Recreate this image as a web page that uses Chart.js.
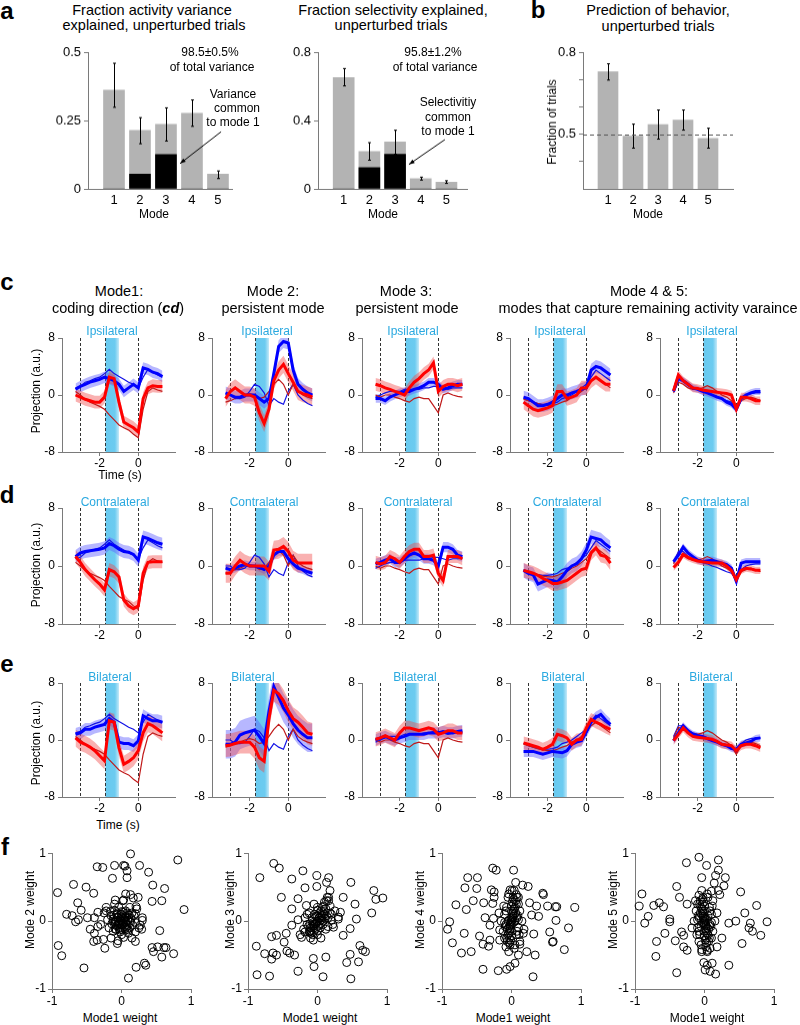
<!DOCTYPE html>
<html lang="en">
<head>
<meta charset="utf-8">
<title>Population modes</title>
<script src="https://cdn.jsdelivr.net/npm/chart.js@4.4.1/dist/chart.umd.min.js"></script>
<style>
body { margin: 0; background: #fff; font-family: Arial, "Liberation Sans", Helvetica, sans-serif; }
#page { position: relative; width: 800px; height: 1025px; overflow: hidden; }
#page canvas { position: absolute; }
.txt { position: absolute; white-space: nowrap; color: #000; font-size: 12px; line-height: 1; transform: translate(-50%, -50%); }
.title { font-size: 14.5px; }
.letter { font-size: 24px; font-weight: bold; }
.stim { color: #2aa9e0; }
.rot { transform: translate(-50%, -50%) rotate(-90deg); }
</style>
</head>
<body>
<div id="page"></div>
<script>
// ---------- data ----------
const modes = [1, 2, 3, 4, 5];

// a (left): fraction of activity variance explained
const actVar = [0.363, 0.215, 0.237, 0.278, 0.054];
const actVarShared = [0, 0.054, 0.126, 0, 0];
const actVarLo = [0.30, 0.166, 0.176, 0.23, 0.038];
const actVarHi = [0.462, 0.262, 0.298, 0.327, 0.066];

// a (right): fraction of selectivity explained
const selVar = [0.655, 0.22, 0.276, 0.06, 0.04];
const selVarShared = [0, 0.125, 0.204, 0, 0];
const selVarLo = [0.606, 0.169, 0.204, 0.052, 0.032];
const selVarHi = [0.708, 0.272, 0.345, 0.069, 0.048];

// b: prediction of behaviour
const predBehav = [0.731, 0.494, 0.536, 0.553, 0.486];
const predLo = [0.70, 0.45, 0.483, 0.516, 0.45];
const predHi = [0.76, 0.538, 0.59, 0.59, 0.523];

// c-e: projections over time (s)
const timeS = [-3.25, -3.0, -2.75, -2.5, -2.25, -2.0, -1.75, -1.5, -1.25, -1.0, -0.75, -0.5, -0.25, 0, 0.25, 0.5, 0.75, 1.0, 1.25];
const epochLines = [-3.0, -1.7, 0];
const stimWindow = [-1.7, -1.0];

// unperturbed (thin) traces, one per mode
const ctlBlue = [
  [1.0, 1.2, 1.8, 2.0, 2.3, 2.5, 3.0, 3.6, 3.0, 2.6, 2.2, 1.8, 1.5, 1.0, 2.5, 3.6, 3.2, 2.8, 2.5],
  [0.0, 0.0, -0.5, -0.5, -0.3, 0.5, 1.5, 1.2, 0.3, -1.5, -0.5, -1.0, -1.3, 0.5, 1.5, 0.0, -0.7, -1.2, -1.5],
  [-0.3, 0.0, 0.3, 0.5, 0.5, 0.5, 0.8, 0.8, 0.8, 0.8, 1.0, 1.0, 1.2, 1.2, 1.0, 0.8, 1.0, 1.0, 1.0],
  [-0.5, -0.8, -1.0, -1.2, -1.3, -1.3, -1.2, -1.0, -0.5, -0.3, 0.0, 0.5, 1.0, 1.5, 2.5, 3.5, 3.0, 2.5, 2.0],
  [0.5, 2.0, 2.0, 1.3, 1.0, 0.8, 0.5, 0.3, 0.0, -0.2, -0.5, -0.8, -1.0, -1.8, -0.5, 0.0, 0.2, 0.3, 0.3]
];
const ctlRed = [
  [0.5, 0.0, -0.6, -1.0, -1.3, -1.6, -2.0, -2.8, -3.5, -4.2, -4.6, -4.9, -5.5, -6.0, -2.0, 0.5, 1.0, 0.7, 0.5],
  [-1.0, -0.8, -0.5, -0.3, 0.0, 0.2, 0.0, -0.5, -0.3, 0.5, 1.5, 2.2, 1.5, 0.0, 1.5, 0.5, 0.0, -0.3, -0.5],
  [0.0, -0.3, 0.0, 0.0, -0.3, -0.5, -0.8, -1.0, -0.5, -0.3, -0.5, -0.5, -1.5, -2.5, 0.0, 0.3, 0.0, -0.2, -0.3],
  [-0.6, -0.8, -1.0, -1.2, -1.4, -1.5, -1.5, -1.3, -1.0, -0.8, -0.3, 0.0, 0.5, 1.0, 2.0, 2.5, 2.0, 1.5, 1.0],
  [0.3, 1.8, 1.5, 1.0, 0.8, 0.8, 1.0, 1.3, 1.0, 0.5, 0.0, -0.3, -0.8, -2.0, -0.8, -0.5, -0.3, -0.5, -0.8]
];

// photoinhibition trials (thick), per row
const ipsiBlue = [
  [0.8, 1.2, 1.5, 1.8, 2.0, 2.2, 2.5, 2.3, 2.0, 1.5, 0.5, 1.0, 1.5, 1.0, 3.8, 3.6, 3.2, 3.0, 2.6],
  [0.3, 0.0, -0.3, -0.3, 0.0, 0.0, 0.0, -0.5, -1.0, -0.5, 3.0, 6.8, 7.5, 7.3, 3.5, 1.5, 0.8, 0.3, 0.0],
  [-0.5, -0.5, -0.8, -0.3, 0.0, 0.3, 0.5, 0.5, 0.8, 1.0, 1.3, 1.8, 1.8, 1.5, 0.8, 1.0, 1.3, 1.5, 1.5],
  [-0.3, -0.5, -1.0, -1.5, -1.5, -1.3, -1.0, -0.5, 0.0, 0.0, 0.3, 0.5, 0.8, 1.0, 3.5, 4.0, 3.8, 3.3, 2.8],
  [0.5, 2.5, 2.0, 1.5, 1.0, 0.8, 0.5, 0.3, 0.0, -0.3, -0.5, -1.0, -1.3, -2.0, -0.5, 0.0, 0.3, 0.5, 0.5]
];
const ipsiRed = [
  [0.0, -0.3, -0.6, -0.8, -1.0, -1.0, -0.3, 2.5, 2.3, -1.0, -3.8, -4.2, -4.6, -5.2, -0.5, 1.0, 1.3, 1.2, 1.2],
  [-0.5, 0.5, 1.0, 0.5, 0.0, 0.0, -0.3, -2.5, -4.0, -2.0, 2.0, 3.5, 4.3, 3.0, 1.8, 0.5, 0.2, 0.0, -0.3],
  [1.5, 1.3, 1.0, 0.8, 0.5, 0.3, 0.0, 1.0, 1.8, 2.3, 3.0, 3.5, 4.5, 0.5, 1.2, 1.5, 1.5, 1.3, 1.5],
  [-1.0, -1.5, -2.0, -2.2, -2.0, -1.8, -1.5, 0.5, 0.5, -0.5, -0.3, 0.0, 1.0, 1.0, 2.0, 2.5, 2.0, 1.5, 1.5],
  [0.6, 2.8, 2.0, 1.5, 1.0, 0.9, 0.7, 0.6, 0.5, 0.4, 0.3, 0.2, 0.0, -2.0, -0.3, -0.3, -0.5, -0.8, -0.8]
];
const contraBlue = [
  [1.3, 1.8, 2.0, 2.1, 2.2, 2.3, 2.5, 3.1, 2.8, 2.3, 2.0, 1.9, 1.6, 0.8, 4.0, 3.8, 3.5, 3.2, 3.0],
  [-0.3, -0.5, -0.3, 0.0, 0.2, 0.0, 0.0, -0.2, -0.5, 0.0, 1.5, 2.0, 2.0, 1.0, 0.3, -0.3, -0.5, -0.8, -1.0],
  [0.3, 0.5, 0.8, 1.0, 0.5, 0.5, 1.0, 1.5, 1.8, 1.5, 1.0, 1.0, 0.8, 0.0, 2.6, 2.6, 2.3, 1.5, 1.3],
  [-0.6, -1.0, -1.2, -2.5, -2.2, -1.9, -2.0, -2.2, -1.5, -0.6, 0.0, 0.3, 1.0, 2.2, 4.0, 3.8, 3.6, 3.0, 2.5],
  [0.6, 1.5, 2.6, 1.8, 1.3, 0.8, 0.6, 0.7, 0.8, 0.6, 0.4, 0.2, -0.3, -2.1, 0.4, 0.6, 0.6, 0.6, 0.6]
];
const contraRed = [
  [1.3, 0.5, -0.5, -1.2, -1.9, -2.5, -3.3, -0.5, -0.8, -1.5, -4.7, -5.5, -5.9, -5.5, -1.0, 0.5, 0.6, 0.6, 0.6],
  [-1.0, -1.0, 0.0, 0.8, 0.3, 0.0, 0.0, 0.0, 0.0, -0.7, 2.2, 2.3, 2.7, 2.0, 0.8, 0.4, 0.4, 0.4, 0.4],
  [0.5, 0.3, 0.5, 1.3, 1.0, 0.5, 1.3, 2.0, 2.3, 2.3, 1.3, 1.3, 1.5, -1.0, -2.0, 1.3, 1.3, 1.3, 1.0],
  [-0.6, -0.8, -1.0, -1.3, -1.7, -2.0, -2.4, -2.4, -2.2, -2.0, -1.5, -1.0, -0.5, -0.3, 1.8, 2.5, 1.5, 1.3, 0.4],
  [-0.2, 0.5, 1.6, 1.2, 0.9, 0.7, 0.6, 0.5, 0.4, 0.4, 0.4, 0.0, -0.6, -1.9, -0.6, -0.3, -0.4, -0.6, -0.6]
];
const bilatBlue = [
  [0.8, 1.0, 1.5, 1.5, 1.8, 2.0, 2.2, 3.0, 2.5, -0.3, -0.5, -0.5, -0.8, -0.1, 3.4, 3.0, 2.7, 2.7, 2.5],
  [-0.6, -0.6, -0.3, 0.7, 1.0, 1.2, 1.4, 0.5, -0.5, 4.0, 7.5, 6.0, 4.5, 3.5, 2.3, 1.4, 0.8, 0.3, 0.3],
  [0.0, 0.3, 0.5, 0.2, 0.0, 0.3, 0.5, 0.8, 0.8, 0.8, 0.8, 1.0, 1.0, 1.0, 1.2, 1.0, 1.0, 1.2, 1.3],
  [-1.6, -1.6, -1.6, -1.8, -2.0, -1.8, -1.6, -1.7, -1.8, -1.5, -0.6, -0.3, -0.1, 1.1, 2.5, 3.2, 3.6, 2.8, 2.2],
  [-0.1, 1.0, 2.0, 1.3, 0.8, 0.6, 0.5, 0.2, -0.1, -0.3, -0.6, -0.8, -1.2, -1.3, -0.6, -0.4, -0.2, 0.2, 0.3]
];
const bilatRed = [
  [0.3, -0.3, -0.6, -1.0, -1.5, -2.2, -2.9, 2.7, 2.5, -1.1, -3.4, -3.0, -2.5, -1.5, 1.0, 2.3, 2.0, 1.5, 1.0],
  [-0.8, -0.7, -0.5, -0.3, -0.3, -0.3, -1.0, -2.5, -3.0, 3.0, 7.0, 6.5, 5.5, 4.1, 3.0, 2.5, 1.8, 1.0, 0.8],
  [0.1, 0.3, 0.6, 0.3, 0.0, 1.0, 1.7, 1.7, 1.5, 1.3, 1.5, 1.7, 1.5, 0.8, 1.0, 1.3, 1.3, 1.0, 1.0],
  [-0.4, -0.6, -0.8, -1.0, -1.3, -1.0, -0.6, 0.8, 0.6, 0.3, -0.6, 0.0, 0.1, 1.7, 2.9, 2.5, 2.2, 1.8, 1.5],
  [-0.1, 0.8, 1.7, 1.0, 0.5, 0.4, 0.3, 0.2, 0.1, -0.2, -0.6, -0.7, -0.8, -1.5, -0.8, -0.6, -0.6, -0.8, -1.1]
];
// s.e.m. half-widths, per mode
const ipsiSemBlue = [0.8, 0.9, 0.6, 0.9, 0.5];
const ipsiSemRed = [0.9, 1.2, 0.9, 1.0, 0.6];
const contraSemBlue = [0.9, 0.6, 0.7, 1.0, 0.5];
const contraSemRed = [0.9, 1.3, 0.9, 1.0, 0.5];
const bilatSemBlue = [0.9, 2.0, 0.8, 0.8, 0.5];
const bilatSemRed = [1.2, 1.6, 1.0, 0.9, 0.6];

// f: mode weights vs mode 1 weight, [x, y]
const w2 = [[0.13,0.99],[0.81,0.90],[-0.35,0.80],[-0.27,0.79],[-0.10,0.82],[0.03,0.82],[0.05,0.81],[0.26,0.82],[0.39,0.72],[0.08,0.74],[0.08,0.64],[-0.13,0.63],[0.45,0.53],[-0.69,0.54],[-0.51,0.50],[-0.40,0.41],[-0.92,0.42],[0.62,0.48],[0.06,0.40],[0.13,0.39],[-0.09,0.31],[0.03,0.31],[0.17,0.34],[0.24,0.35],[0.44,0.29],[0.58,0.30],[0.90,0.17],[-0.63,0.27],[-0.58,0.16],[-0.79,0.10],[-0.71,0.08],[-0.62,0.02],[-0.49,0.05],[-0.66,-0.01],[-0.39,0.05],[-0.34,0.13],[-0.22,0.15],[0.21,0.21],[0.20,0.11],[0.30,0.01],[0.27,-0.06],[0.29,-0.12],[0.08,-0.12],[-0.09,-0.12],[-0.45,-0.12],[-0.39,-0.18],[-0.34,-0.08],[-0.40,-0.30],[-0.35,-0.28],[-0.26,-0.27],[-0.24,-0.40],[-0.06,-0.33],[-0.05,-0.29],[0.03,-0.24],[0.20,-0.30],[0.20,-0.16],[0.55,-0.14],[0.44,-0.39],[0.46,-0.45],[0.52,-0.38],[0.61,-0.39],[0.64,-0.39],[0.58,-0.53],[0.75,-0.48],[-0.91,-0.36],[-0.86,-0.51],[-0.54,-0.69],[0.21,-0.68],[0.33,-0.62],[0.35,-0.65],[0.10,-0.84],
  [-0.05,0.05],[0,0],[0.02,-0.03],[-0.03,-0.02],[0.05,0.02],[-0.08,0],[0.08,-0.05],[0,0.1],[-0.02,-0.1],[0.1,0.05],[-0.1,-0.05],[0.04,-0.08],[-0.06,0.12],[0.12,-0.1],[-0.15,0.08],[0.15,0.12],[-0.12,-0.15],[0.06,0.15],[-0.2,0.02],[0.2,-0.02],[0,-0.2],[-0.04,0.2],[0.1,-0.18],[-0.18,-0.1],[0.18,0.08],[-0.25,0.12],[0.25,-0.1],[-0.1,0.25],[0.12,0.2],[-0.3,-0.05],[0.3,0.05],[0.02,0.3],[-0.15,-0.25],[0.15,-0.25],[-0.22,0.2],[0.22,0.18],[0.07,0.07],[-0.07,-0.07],[0.03,0.04],[-0.01,0.02],[0.01,-0.06],[-0.04,-0.04],[0.06,-0.01],[-0.12,0.03],[0.13,-0.02],
  [0.02,0.08],[-0.06,0.06],[0.09,0.01],[-0.09,-0.02],[0.05,-0.11],[-0.03,-0.13],[0.11,0.09],[-0.11,0.09],[0.0,0.05],[0.0,-0.05],[0.04,0.0],[-0.04,0.0],[0.07,-0.09],[-0.07,0.1],[0.14,0.04],[-0.14,-0.04],[0.02,0.13],[-0.02,-0.16],[0.1,-0.13],[-0.1,0.16],[0.16,-0.06],[-0.16,0.14],[0.05,0.06],[-0.05,-0.06],[0.08,0.12],[-0.08,-0.12],[0.12,0.0],[-0.12,0.0],[0.0,0.14],[0.0,-0.12]];
const w3 = [[-0.63,0.85],[-0.55,0.78],[-0.83,0.64],[-0.21,0.74],[-0.37,0.62],[-0.01,0.67],[0.16,0.64],[0.13,0.57],[-0.01,0.51],[0.48,0.57],[-0.18,0.49],[0.18,0.45],[0.16,0.35],[0.13,0.30],[0.37,0.35],[0.81,0.45],[0.84,0.32],[0.94,0.34],[0.78,0.12],[0.54,0.25],[-0.52,0.35],[-0.37,0.18],[-0.28,0.33],[-0.16,0.23],[0.56,0.03],[0.20,0.01],[0.23,-0.09],[-0.37,-0.06],[-0.45,-0.18],[-0.59,-0.21],[-0.48,-0.31],[-0.44,-0.44],[-0.40,-0.47],[-0.33,-0.50],[-0.88,-0.37],[-0.76,-0.48],[-0.66,-0.56],[-0.59,-0.50],[-0.64,-0.47],[-0.66,-0.23],[-0.87,-0.79],[-0.69,-0.81],[-0.28,-0.74],[-0.06,-0.55],[-0.05,-0.67],[0.12,-0.53],[0.08,-0.82],[0.37,-0.21],[0.47,-0.11],[0.47,-0.49],[0.42,-0.61],[0.48,-0.85],[0.59,-0.60],[0.61,-0.36],[0.65,-0.43],[0.69,-0.45],[-0.11,-0.16],[-0.23,-0.24],[-0.06,-0.28],[0.33,0.13],[0.30,0.06],
  [0,0],[0.03,0.05],[-0.03,-0.04],[0.06,0.02],[-0.06,-0.02],[0.02,-0.06],[-0.02,0.07],[0.1,0.1],[-0.1,-0.1],[0.08,-0.05],[-0.08,0.05],[0.12,0.18],[-0.12,-0.16],[0.15,0.05],[-0.15,-0.05],[0.05,0.15],[-0.05,-0.15],[0.18,0.22],[-0.2,-0.12],[0.2,0.1],[-0.18,0.05],[0.22,-0.05],[0,0.2],[0,-0.2],[0.1,0.28],[-0.1,-0.25],[0.25,0.15],[-0.25,-0.2],[0.14,0.35],[-0.28,0.02],[0.3,0.03],[0.05,-0.25],[-0.05,0.25],[0.12,-0.12],[-0.12,0.12],[0.04,0.01],[-0.01,-0.01],[0.07,0.08],[-0.07,-0.08],[0.16,0.3],
  [0.02,0.04],[-0.02,-0.03],[0.05,0.08],[-0.05,-0.07],[0.08,0.0],[-0.08,0.0],[0.0,0.08],[0.0,-0.08],[0.1,0.14],[-0.1,-0.14],[0.04,-0.1],[-0.04,0.1],[0.13,0.08],[-0.13,-0.08],[0.07,0.2],[-0.07,-0.2],[0.15,-0.08],[-0.15,0.1],[0.03,0.12],[-0.03,-0.12],[0.11,0.04],[-0.11,-0.04],[0.06,0.05],[-0.06,-0.05],[0.09,0.22],[-0.09,-0.18],[0.18,0.12],[-0.18,-0.16],[0.0,0.16],[0.0,-0.14]];
const w4 = [[-0.27,0.78],[-0.22,0.75],[0.03,0.75],[-0.63,0.64],[-0.49,0.64],[0.06,0.57],[0.16,0.53],[0.24,0.51],[-0.67,0.49],[-0.50,0.48],[-0.29,0.46],[-0.25,0.43],[-0.02,0.46],[0.01,0.45],[0.07,0.39],[0.10,0.35],[0.45,0.41],[0.46,0.39],[-0.80,0.24],[-0.55,0.30],[-0.65,0.17],[-0.40,0.27],[-0.25,0.35],[-0.27,0.26],[0.26,0.27],[0.36,0.22],[0.52,0.22],[0.63,0.21],[0.65,0.21],[0.91,0.20],[-0.89,-0.01],[-0.92,-0.12],[-0.85,-0.32],[-0.72,-0.47],[-0.58,-0.45],[-0.68,-0.18],[-0.46,-0.22],[-0.41,-0.34],[-0.33,-0.37],[-0.31,-0.28],[-0.38,0.05],[-0.26,0.04],[-0.31,-0.06],[-0.17,-0.13],[-0.17,-0.28],[-0.41,-0.71],[-0.19,-0.73],[-0.07,-0.71],[-0.02,-0.67],[0.05,-0.62],[0.31,-0.82],[0.10,-0.50],[0.22,-0.45],[0.34,-0.50],[0.32,-0.19],[0.29,0.09],[0.39,0.07],[0.55,-0.16],[0.59,-0.31],[0.60,-0.30],[0.64,0.01],[0.82,-0.10],[0.76,-0.42],[0.17,-0.18],[0.12,-0.34],
  [0,0],[0.02,0.05],[-0.02,-0.05],[0.04,0.1],[-0.04,-0.1],[0,0.15],[0,-0.15],[0.05,0.2],[-0.05,-0.2],[0.03,0.25],[-0.03,-0.25],[0.08,0.05],[-0.08,-0.05],[0.1,-0.1],[-0.1,0.1],[0.06,0.3],[-0.06,-0.3],[0.02,0.35],[-0.02,-0.35],[0.12,0.15],[-0.12,-0.15],[0.15,0],[-0.15,0],[0.07,-0.2],[-0.07,0.2],[0.1,0.25],[-0.1,-0.25],[0.04,-0.4],[-0.04,0.4],[0.18,-0.12],[-0.18,0.12],[0.01,0.02],[-0.01,-0.02],[0.03,-0.02],[-0.03,0.02],[0.05,0.0],[-0.05,0.0],[0.08,0.35],[-0.08,-0.38],[0.12,-0.3],
  [0.02,0.07],[-0.02,-0.07],[0.0,0.05],[0.0,-0.05],[0.04,0.18],[-0.04,-0.18],[0.06,0.12],[-0.06,-0.12],[0.01,0.28],[-0.01,-0.28],[0.08,-0.15],[-0.08,0.15],[0.03,0.32],[-0.03,-0.32],[0.1,0.02],[-0.1,-0.02],[0.05,-0.35],[-0.05,0.35],[0.07,0.25],[-0.07,-0.25],[0.02,0.12],[-0.02,-0.12],[0.09,0.08],[-0.09,-0.08],[0.04,0.45],[-0.04,-0.45],[0.11,-0.2],[-0.11,0.22],[0.0,0.22],[0.0,-0.22]];
const w5 = [[-0.08,0.94],[0.03,0.82],[0.20,0.90],[-0.26,0.86],[0.20,0.75],[0.16,0.67],[0.30,0.64],[-0.04,0.64],[0.14,0.56],[0.28,0.52],[-0.40,0.51],[0.20,0.45],[0.22,0.39],[0.10,0.44],[-0.90,0.40],[0.52,0.43],[-0.36,0.35],[-0.94,0.22],[-0.73,0.23],[-0.65,0.27],[-0.59,0.21],[-0.81,0.07],[-0.86,-0.03],[-0.13,0.30],[-0.25,0.25],[0.58,0.12],[0.75,0.23],[-0.50,0.03],[-0.50,-0.01],[0.90,-0.01],[0.66,-0.03],[0.64,-0.10],[0.69,-0.15],[0.81,-0.21],[-0.57,-0.18],[0.54,-0.33],[0.35,-0.03],[0.45,0.00],[-0.69,-0.30],[-0.70,-0.52],[-0.42,-0.29],[-0.30,-0.38],[-0.25,-0.43],[-0.30,-0.21],[-0.33,-0.16],[-0.40,-0.76],[0.35,-0.65],[-0.01,-0.61],[0.04,-0.65],[0.11,-0.62],[0.01,-0.72],[0.08,-0.74],[0.16,-0.78],[0.25,-0.25],[0.18,-0.38],[-0.08,-0.30],[-0.04,-0.45],[0.04,-0.43],
  [0,0],[-0.02,0.05],[0.02,-0.05],[-0.04,0.1],[0.04,-0.1],[0,0.15],[0,-0.15],[-0.05,0.2],[0.05,-0.2],[-0.03,0.25],[0.03,-0.25],[-0.08,0.05],[0.08,-0.05],[-0.1,-0.1],[0.1,0.1],[-0.06,0.3],[0.06,-0.3],[-0.02,0.35],[0.02,-0.38],[-0.12,0.15],[0.12,-0.15],[-0.15,0],[0.15,0],[-0.07,-0.2],[0.07,0.2],[-0.1,0.25],[0.1,-0.25],[-0.04,-0.42],[0.04,0.4],[-0.18,-0.1],[0.18,0.12],[0.01,0.02],[-0.01,-0.02],[0.03,0.03],[-0.03,-0.03],[0.05,0.08],[-0.05,-0.08],[-0.08,0.38],[0.08,-0.4],[0.12,0.3],
  [-0.02,0.07],[0.02,-0.07],[0.0,0.05],[0.0,-0.05],[-0.04,0.18],[0.04,-0.18],[-0.06,0.12],[0.06,-0.12],[-0.01,0.28],[0.01,-0.28],[-0.08,-0.15],[0.08,0.15],[-0.03,0.32],[0.03,-0.32],[-0.1,0.02],[0.1,-0.02],[-0.05,-0.35],[0.05,0.35],[-0.07,0.25],[0.07,-0.25],[-0.02,0.12],[0.02,-0.12],[-0.09,0.08],[0.09,-0.08],[-0.04,0.45],[0.04,-0.45],[-0.11,-0.2],[0.11,0.22],[0.0,0.22],[0.0,-0.22]];

// ---------- helpers ----------
Chart.defaults.font.family = 'Arial, "Liberation Sans", Helvetica, sans-serif';
Chart.defaults.color = '#000';
Chart.defaults.animation = false;

const AXIS_GREY = '#7a7a7a';
const BAR_GREY = '#b3b3b3';
const page = document.getElementById('page');

// area = [x0, y0, x1, y1] of the plot area on the page, pad = [left, top, right, bottom]
function makeCanvas(area, pad) {
  const c = document.createElement('canvas');
  const w = area[2] - area[0] + pad[0] + pad[2];
  const h = area[3] - area[1] + pad[1] + pad[3];
  c.width = w; c.height = h;
  c.style.left = (area[0] - pad[0]) + 'px';
  c.style.top = (area[1] - pad[1]) + 'px';
  c.style.width = w + 'px';
  c.style.height = h + 'px';
  page.appendChild(c);
  return c;
}

function txt(s, x, y, cls) {
  const d = document.createElement('div');
  d.className = 'txt' + (cls ? ' ' + cls : '');
  d.innerHTML = s;
  d.style.left = x + 'px';
  d.style.top = y + 'px';
  page.appendChild(d);
}

function axis(pos, min, max, ticks, size, o = {}) {
  return {
    type: 'linear', position: pos, min: min, max: max, offset: false,
    afterBuildTicks: s => { s.ticks = ticks.map(v => ({ value: v })); },
    afterFit: s => { if (pos === 'left') s.width = size; else s.height = size; },
    grid: { drawOnChartArea: false, offset: false, drawTicks: !o.noTicks, tickLength: 4, color: AXIS_GREY },
    border: { color: AXIS_GREY },
    ticks: { font: { size: o.fontSize || 12 }, padding: o.pad ?? 2, maxRotation: 0, autoSkip: false,
             callback: o.fmt || (v => String(v)) }
  };
}

function options(pad, xAxis, yAxis) {
  return {
    responsive: false, animation: false, devicePixelRatio: 1,
    layout: { padding: { left: 0, top: pad[1], right: pad[2], bottom: 0 } },
    scales: { x: xAxis, y: yAxis },
    plugins: { legend: { display: false }, tooltip: { enabled: false } }
  };
}

function errorBars(lo, hi) {
  return {
    id: 'errorBars',
    afterDatasetsDraw(chart) {
      const { ctx, scales: { x, y } } = chart;
      ctx.save();
      ctx.strokeStyle = '#000'; ctx.lineWidth = 1;
      modes.forEach((m, i) => {
        const px = Math.round(x.getPixelForValue(m)) + 0.5;
        const yl = y.getPixelForValue(lo[i]), yh = y.getPixelForValue(hi[i]);
        ctx.beginPath();
        ctx.moveTo(px, yl); ctx.lineTo(px, yh);
        ctx.moveTo(px - 1.5, yl); ctx.lineTo(px + 1.5, yl);
        ctx.moveTo(px - 1.5, yh); ctx.lineTo(px + 1.5, yh);
        ctx.stroke();
      });
      ctx.restore();
    }
  };
}

// annotation arrow, given in data units
function arrow(from, to) {
  return {
    id: 'arrow',
    afterDatasetsDraw(chart) {
      const { ctx, scales: { x, y } } = chart;
      const x0 = x.getPixelForValue(from[0]), y0 = y.getPixelForValue(from[1]);
      const x1 = x.getPixelForValue(to[0]), y1 = y.getPixelForValue(to[1]);
      const a = Math.atan2(y1 - y0, x1 - x0);
      ctx.save();
      ctx.strokeStyle = '#000'; ctx.fillStyle = '#000'; ctx.lineWidth = 1;
      ctx.beginPath(); ctx.moveTo(x0, y0); ctx.lineTo(x1, y1); ctx.stroke();
      ctx.beginPath();
      ctx.moveTo(x1, y1);
      ctx.lineTo(x1 - 6 * Math.cos(a - 0.35), y1 - 6 * Math.sin(a - 0.35));
      ctx.lineTo(x1 - 6 * Math.cos(a + 0.35), y1 - 6 * Math.sin(a + 0.35));
      ctx.closePath(); ctx.fill();
      ctx.restore();
    }
  };
}

function chanceLine(level) {
  return {
    id: 'chance',
    afterDatasetsDraw(chart) {
      const { ctx, chartArea: a, scales: { y } } = chart;
      const py = Math.round(y.getPixelForValue(level)) + 0.5;
      ctx.save();
      ctx.strokeStyle = '#555'; ctx.lineWidth = 1; ctx.setLineDash([4, 3]);
      ctx.beginPath(); ctx.moveTo(a.left, py); ctx.lineTo(a.right, py); ctx.stroke();
      ctx.restore();
    }
  };
}

function barPanel(area, vals, shared, lo, hi, yMin, yMax, yTicks, yFmt, xMax, width, extra) {
  const pad = [40, 10, 10, 20];
  const datasets = [];
  if (shared) {
    datasets.push({ data: modes.map((m, i) => ({ x: m, y: [0, shared[i]] })), backgroundColor: '#000',
                    barThickness: width, grouped: false, order: 1 });
  }
  datasets.push({ data: modes.map((m, i) => ({ x: m, y: [yMin, vals[i]] })), backgroundColor: BAR_GREY,
                  barThickness: width, grouped: false, order: 2 });
  new Chart(makeCanvas(area, pad), {
    type: 'bar',
    data: { datasets },
    options: options(pad,
      axis('bottom', 0, xMax, modes, pad[3], { noTicks: true, fontSize: 13, pad: 4 }),
      axis('left', yMin, yMax, yTicks, pad[0], { fontSize: 13, pad: 3, fmt: yFmt })),
    plugins: [errorBars(lo, hi)].concat(extra)
  });
}

// ---------- panel a / b ----------
barPanel([88, 52, 232, 188.5], actVar, actVarShared, actVarLo, actVarHi, 0, 0.5, [0, 0.25, 0.5], null, 5.54, 21,
         [arrow([5.12, 0.21], [3.54, 0.093])]);
barPanel([318, 52, 467, 188.5], selVar, selVarShared, selVarLo, selVarHi, 0, 0.8, [0, 0.4, 0.8], null, 5.8, 21,
         [arrow([4.94, 0.29], [3.54, 0.144])]);
barPanel([583, 52, 733, 188.5], predBehav, null, predLo, predHi, 0.3, 0.8, [0.4, 0.5, 0.6, 0.7, 0.8],
         v => (v === 0.8 || v === 0.5) ? v.toFixed(1) : '', 6, 20, [chanceLine(0.5)]);

// ---------- panels c-e ----------
const traceAxisX = [62, 212, 362, 510, 660];
const traceRows = [
  { blue: ipsiBlue, red: ipsiRed, semB: ipsiSemBlue, semR: ipsiSemRed, top: 338, bottom: 452 },
  { blue: contraBlue, red: contraRed, semB: contraSemBlue, semR: contraSemRed, top: 508, bottom: 624 },
  { blue: bilatBlue, red: bilatRed, semB: bilatSemBlue, semR: bilatSemRed, top: 683, bottom: 797 }
];

const epochPlugin = {
  id: 'epochs',
  beforeDatasetsDraw(chart) {
    const { ctx, chartArea: a, scales: { x } } = chart;
    const s0 = x.getPixelForValue(stimWindow[0]), s1 = x.getPixelForValue(stimWindow[1]);
    const g = ctx.createLinearGradient(s0, 0, s1, 0);
    g.addColorStop(0, '#68c9ef'); g.addColorStop(0.7, '#6ccbf0'); g.addColorStop(1, '#c4e9f8');
    ctx.save();
    ctx.fillStyle = g;
    ctx.fillRect(s0, a.top, s1 - s0, a.bottom - a.top);
    ctx.strokeStyle = '#333'; ctx.lineWidth = 1; ctx.setLineDash([3, 2]);
    epochLines.forEach(t => {
      const px = Math.round(x.getPixelForValue(t)) + 0.5;
      ctx.beginPath(); ctx.moveTo(px, a.top); ctx.lineTo(px, a.bottom); ctx.stroke();
    });
    ctx.restore();
  }
};

const pts = vals => timeS.map((t, i) => ({ x: t, y: vals[i] }));
function line(vals, color, width, order) {
  return { data: pts(vals), borderColor: color, borderWidth: width, pointRadius: 0, fill: false,
           tension: 0, order: order, clip: false };
}
function band(vals, sem, color, order) {
  return [
    { data: pts(vals.map(v => v + sem)), borderWidth: 0, borderColor: 'rgba(0,0,0,0)', pointRadius: 0,
      backgroundColor: color, fill: '+1', order: order },
    { data: pts(vals.map(v => v - sem)), borderWidth: 0, borderColor: 'rgba(0,0,0,0)', pointRadius: 0,
      fill: false, order: order }
  ];
}

traceRows.forEach(row => {
  modes.forEach((mode, m) => {
    const area = [traceAxisX[m], row.top, traceAxisX[m] + 113, row.bottom];
    const pad = [30, 24, 8, 18];
    const datasets = [].concat(
      band(row.blue[m], row.semB[m], 'rgba(95,95,255,0.45)', 6),
      band(row.red[m], row.semR[m], 'rgba(240,70,70,0.42)', 5),
      [line(ctlBlue[m], '#1212e6', 1.2, 4), line(ctlRed[m], '#c01a1a', 1.2, 3),
       line(row.blue[m], '#0000ff', 3, 2), line(row.red[m], '#ff0000', 3, 1)]
    );
    new Chart(makeCanvas(area, pad), {
      type: 'line',
      data: { datasets },
      options: options(pad,
        axis('bottom', -3.95, 1.9, [-2, 0], pad[3], { pad: 0 }),
        axis('left', -8, 8, [-8, 0, 8], pad[0], { pad: 3 })),
      plugins: [epochPlugin]
    });
  });
});

// ---------- panel f ----------
const scatterX = [52, 248, 442, 635];
[w2, w3, w4, w5].forEach((set, k) => {
  const area = [scatterX[k], 852, scatterX[k] + 139, 989];
  const pad = [26, 8, 10, 20];
  new Chart(makeCanvas(area, pad), {
    type: 'scatter',
    data: { datasets: [{ data: set.map(p => ({ x: p[0], y: p[1] })), pointRadius: 4, pointStyle: 'circle',
                         pointBorderColor: '#000', pointBackgroundColor: 'rgba(0,0,0,0)', pointBorderWidth: 1,
                         clip: false }] },
    options: options(pad,
      axis('bottom', -1, 1, [-1, 0, 1], pad[3], { pad: 1 }),
      axis('left', -1, 1, [-1, 0, 1], pad[0], { pad: 2 }))
  });
});

// ---------- text ----------
txt('a', 7, 11, 'letter'); txt('b', 538, 10, 'letter');
txt('c', 7, 282, 'letter'); txt('d', 7, 495, 'letter');
txt('e', 7, 664, 'letter'); txt('f', 5, 847, 'letter');

txt('Fraction activity variance', 152, 10, 'title');
txt('explained, unperturbed trials', 154, 25, 'title');
txt('Fraction selectivity explained,', 393, 10, 'title');
txt('unperturbed trials', 391, 25, 'title');
txt('Prediction of behavior,', 658, 10, 'title');
txt('unperturbed trials', 658, 26, 'title');

txt('98.5±0.5%', 210, 52); txt('of total variance', 212, 67);
txt('Variance', 233, 94); txt('common', 237, 108); txt('to mode 1', 233, 122);
txt('95.8±1.2%', 433, 52); txt('of total variance', 435, 67);
txt('Selectivitiy', 448, 102); txt('common', 448, 117); txt('to mode 1', 448, 131);
txt('Mode', 154, 214); txt('Mode', 383, 214); txt('Mode', 648, 214);
txt('Fraction of trials', 552, 122, 'rot');

txt('Mode1:', 119, 291, 'title'); txt('coding direction (<b><i>cd</i></b>)', 118, 308, 'title');
txt('Mode 2:', 273, 291, 'title'); txt('persistent mode', 273, 308, 'title');
txt('Mode 3:', 406, 291, 'title'); txt('persistent mode', 407, 308, 'title');
txt('Mode 4 &amp; 5:', 649, 291, 'title');
txt('modes that capture remaining activity varaince', 648, 308, 'title');

const ipsiLabelX = [112, 267, 413, 560, 712];
const contraLabelX = [115, 264, 418, 567, 715];
const bilatLabelX = [110, 253, 415, 563, 711];
ipsiLabelX.forEach(x => txt('Ipsilateral', x, 331, 'stim'));
contraLabelX.forEach(x => txt('Contralateral', x, 502, 'stim'));
bilatLabelX.forEach(x => txt('Bilateral', x, 677, 'stim'));

txt('Projection (a.u.)', 36, 391, 'rot');
txt('Projection (a.u.)', 36, 565, 'rot');
txt('Projection (a.u.)', 36, 743, 'rot');
txt('Time (s)', 120, 475);
txt('Time (s)', 118, 825);

const scatterLabelX = [120, 320, 513, 707];
const scatterYLabelX = [30, 230, 420, 613];
scatterLabelX.forEach(x => txt('Mode1 weight', x, 1018));
['Mode 2 weight', 'Mode 3 weight', 'Mode 4 weight', 'Mode 5 weight'].forEach((s, k) => txt(s, scatterYLabelX[k], 910, 'rot'));
</script>
</body>
</html>
